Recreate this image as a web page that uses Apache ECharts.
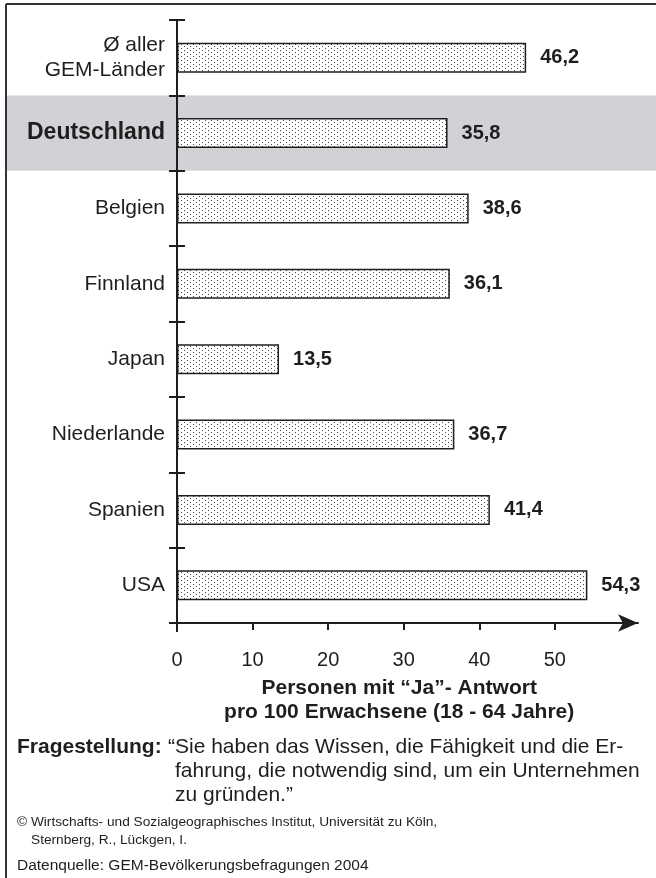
<!DOCTYPE html>
<html>
<head>
<meta charset="utf-8">
<script src="https://cdn.jsdelivr.net/npm/echarts@6/dist/echarts.min.js"></script>
<style>
html,body{margin:0;padding:0;background:#fff;}
#c{width:656px;height:878px;}
</style>
</head>
<body>
<div id="c"></div>
<script>
const categories = ['Ø aller\nGEM-Länder','Deutschland','Belgien','Finnland','Japan','Niederlande','Spanien','USA'];
const values = [46.2, 35.8, 38.6, 36.1, 13.5, 36.7, 41.4, 54.3];
const xTickValues = [0, 10, 20, 30, 40, 50];
const highlighted = 'Deutschland';
const axisTitle = ['Personen mit “Ja”- Antwort', 'pro 100 Erwachsene (18 - 64 Jahre)'];
const questionLabel = 'Fragestellung:';
const questionLines = ['“Sie haben das Wissen, die Fähigkeit und die Er-', 'fahrung, die notwendig sind, um ein Unternehmen', 'zu gründen.”'];
const copyrightLines = ['© Wirtschafts- und Sozialgeographisches Institut, Universität zu Köln,', 'Sternberg, R., Lückgen, I.'];
const sourceLine = 'Datenquelle: GEM-Bevölkerungsbefragungen 2004';

const FONT = '"Liberation Sans", Arial, Helvetica, sans-serif';
const INK = '#1e1e1e';

// dotted pattern
const pc = document.createElement('canvas');
pc.width = 6; pc.height = 4;
const pctx = pc.getContext('2d');
pctx.fillStyle = '#ffffff'; pctx.fillRect(0,0,6,4);
pctx.fillStyle = '#444444';
pctx.fillRect(1,0,1,1);
pctx.fillRect(4,2,1,1);

const chart = echarts.init(document.getElementById('c'), null, {renderer:'canvas'});

const option = {
  animation: false,
  backgroundColor: '#fff',
  grid: {left: 177, right: 18, top: 20, bottom: 255, containLabel: false},
  xAxis: {
    type: 'value', min: 0, max: 61,
    axisLine: {show: true, symbol: ['none','arrow'], symbolSize: [13, 20],
      lineStyle: {color: INK, width: 2}},
    axisTick: {show: true, length: 7, customValues: xTickValues, lineStyle: {color: INK, width: 2}},
    axisLabel: {customValues: xTickValues, margin: 27, fontSize: 20, color: INK, fontFamily: FONT},
    splitLine: {show: false}
  },
  yAxis: [{
    type: 'category', inverse: true, data: categories,
    axisLine: {show: true, lineStyle: {color: INK, width: 2}},
    axisTick: {show: true, length: 8, lineStyle: {color: INK, width: 2}},
    axisLabel: {margin: 12, fontSize: 21, color: INK, fontFamily: FONT, lineHeight: 25,
      formatter: v => v === highlighted ? '{b|' + v + '}' : v,
      rich: {b: {fontWeight: 'bold', fontSize: 23, fontFamily: FONT, color: INK}}}
  },{
    type: 'category', inverse: true, data: categories, position: 'left',
    axisLine: {show: false},
    axisTick: {show: true, inside: true, length: 8, lineStyle: {color: INK, width: 2}},
    axisLabel: {show: false}
  }],
  series: [{
    type: 'bar', data: values, barWidth: 30, yAxisIndex: 0,
    itemStyle: {color: {image: pc, repeat: 'repeat'}, borderColor: INK, borderWidth: 1.5},
    label: {show: true, position: 'right', distance: 14, fontSize: 20, fontWeight: 'bold',
      color: INK, fontFamily: FONT, formatter: p => p.value.toFixed(1).replace('.', ',')},
    z: 3
  }]
};
chart.setOption(option);

const c0 = chart.convertToPixel({yAxisIndex: 0}, categories[0]);
const c1 = chart.convertToPixel({yAxisIndex: 0}, categories[1]);
const band = c1 - c0;
const hiC = chart.convertToPixel({yAxisIndex: 0}, highlighted);
const x0 = chart.convertToPixel({xAxisIndex: 0}, 0);
const yBottom = chart.convertToPixel({yAxisIndex: 0}, categories[categories.length-1]) + band/2;
const titleX = chart.convertToPixel({xAxisIndex: 0}, 29.4);

const tStyle = (text, x, y, extra) => Object.assign({type: 'text', style: Object.assign({text, x, y, font: '21px ' + FONT, fill: INK, textVerticalAlign: 'middle'}, extra || {})});

chart.setOption({
  graphic: [
    {type: 'rect', z: -10, silent: true, shape: {x: 6, y: hiC - band/2, width: 650, height: band}, style: {fill: '#d1d2d5'}},
    {type: 'line', shape: {x1: 6, y1: 4, x2: 656, y2: 4}, style: {stroke: '#333', lineWidth: 2}},
    {type: 'line', shape: {x1: 6, y1: 4, x2: 6, y2: 878}, style: {stroke: '#333', lineWidth: 2}},
    {type: 'line', shape: {x1: x0, y1: yBottom, x2: x0, y2: yBottom + 9}, style: {stroke: INK, lineWidth: 2}},
    {type: 'line', shape: {x1: x0 - 8, y1: yBottom, x2: x0, y2: yBottom}, style: {stroke: INK, lineWidth: 2}},
    tStyle(axisTitle[0], titleX, 688, {font: 'bold 21px ' + FONT, textAlign: 'center'}),
    tStyle(axisTitle[1], titleX, 712, {font: 'bold 21px ' + FONT, textAlign: 'center'}),
    tStyle(questionLabel, 17, 747, {font: 'bold 21px ' + FONT}),
    tStyle(questionLines[0], 168, 747),
    tStyle(questionLines[1], 175, 771),
    tStyle(questionLines[2], 175, 795),
    tStyle(copyrightLines[0], 17, 822, {font: '13.7px ' + FONT}),
    tStyle(copyrightLines[1], 31, 840, {font: '13.7px ' + FONT}),
    tStyle(sourceLine, 17, 866, {font: '15.5px ' + FONT})
  ]
});
</script>
</body>
</html>
